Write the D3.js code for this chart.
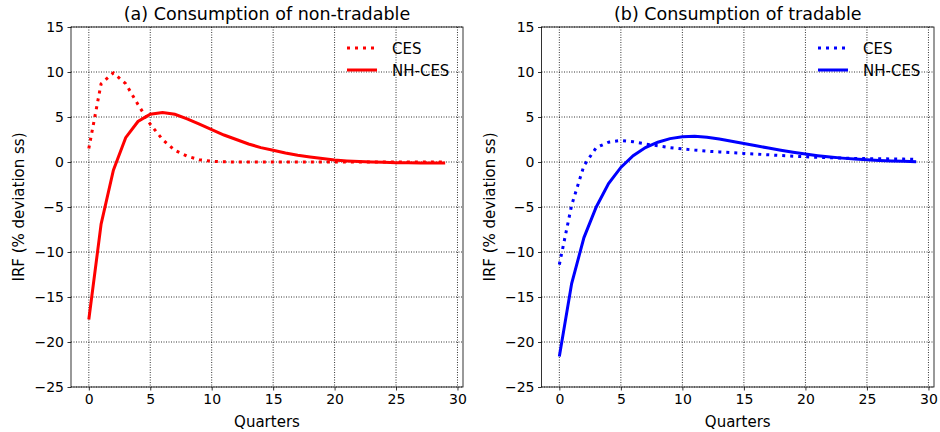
<!DOCTYPE html>
<html>
<head>
<meta charset="utf-8">
<script src="https://cdn.jsdelivr.net/npm/d3@7"></script>
<style>
  body { margin: 0; background: #fff; }
  text { font-family: "DejaVu Sans", sans-serif; fill: #000; }
</style>
</head>
<body>
<svg id="chart" width="940" height="432"></svg>
<script>
// quarters after the shock
const quarters = [0,1,2,3,4,5,6,7,8,9,10,11,12,13,14,15,16,17,18,19,20,21,22,23,24,25,26,27,28,29];

// (a) non-tradable consumption
const nonTradCES = [1.5,8.7,9.9,8.7,6.4,4.2,2.5,1.3,0.65,0.25,0.08,0.02,0,0,0,0,0,0,0,0,0,0,0,0,0,0,0,0,0,0];
const nonTradNH = [-17.5,-6.9,-0.9,2.7,4.5,5.3,5.5,5.3,4.8,4.2,3.6,3.0,2.5,2.0,1.6,1.3,1.0,0.75,0.55,0.38,0.22,0.12,0.05,0.0,-0.04,-0.07,-0.09,-0.1,-0.1,-0.1];

// (b) tradable consumption
const tradCES = [-11.4,-4.8,-0.4,1.6,2.2,2.4,2.25,2.0,1.8,1.6,1.45,1.32,1.2,1.12,1.04,0.95,0.88,0.8,0.72,0.65,0.58,0.52,0.47,0.43,0.4,0.38,0.36,0.34,0.32,0.3];
const tradNH = [-21.6,-13.5,-8.4,-5.0,-2.4,-0.6,0.7,1.6,2.2,2.6,2.8,2.85,2.75,2.55,2.3,2.05,1.8,1.55,1.3,1.08,0.88,0.7,0.55,0.43,0.33,0.25,0.18,0.12,0.07,0.03];

const xTicks = [0,5,10,15,20,25,30];
const yTicks = [-25,-20,-15,-10,-5,0,5,10,15];
const titles = ["(a) Consumption of non-tradable", "(b) Consumption of tradable"];
const seriesNames = ["CES", "NH-CES"];
const colors = ["#ff0000", "#0000ff"];

const svg = d3.select("#chart");
svg.append("rect").attr("width", 940).attr("height", 432).attr("fill", "#fff");

const panels = [
  { left: 71, right: 463, title: titles[0], color: colors[0], ces: nonTradCES, nh: nonTradNH },
  { left: 541.5, right: 934, title: titles[1], color: colors[1], ces: tradCES, nh: tradNH }
];
const plotTop = 27, plotBottom = 387;

panels.forEach((p, k) => {
  const x = d3.scaleLinear().domain([-1.45, 30.45]).range([p.left, p.right]);
  const y = d3.scaleLinear().domain([-25, 15]).range([plotBottom, plotTop]);
  const g = svg.append("g");

  // grid
  g.append("g").selectAll("line").data(xTicks).join("line")
    .attr("x1", d => x(d)).attr("x2", d => x(d))
    .attr("y1", plotTop).attr("y2", plotBottom)
    .attr("stroke", "#000").attr("stroke-width", 0.8).attr("stroke-dasharray", "1,1.5");
  g.append("g").selectAll("line").data(yTicks).join("line")
    .attr("x1", p.left).attr("x2", p.right)
    .attr("y1", d => y(d)).attr("y2", d => y(d))
    .attr("stroke", "#000").attr("stroke-width", 0.8).attr("stroke-dasharray", "1,1.5");

  // lines
  const line = vals => d3.line().x((d, i) => x(quarters[i])).y(d => y(d))(vals);
  const clipId = "clip" + k;
  svg.append("clipPath").attr("id", clipId).append("rect")
    .attr("x", p.left).attr("y", plotTop).attr("width", p.right - p.left).attr("height", plotBottom - plotTop);
  const lg = g.append("g").attr("clip-path", `url(#${clipId})`);
  lg.append("path").attr("d", line(p.ces)).attr("fill", "none")
    .attr("stroke", p.color).attr("stroke-width", 3).attr("stroke-dasharray", "3,5");
  lg.append("path").attr("d", line(p.nh)).attr("fill", "none")
    .attr("stroke", p.color).attr("stroke-width", 3);

  // axes
  const xAxis = g.append("g").attr("transform", `translate(0,${plotBottom})`)
    .call(d3.axisBottom(x).tickValues(xTicks).tickSize(3.5).tickPadding(3.5));
  const yAxis = g.append("g").attr("transform", `translate(${p.left},0)`)
    .call(d3.axisLeft(y).tickValues(yTicks).tickSize(3.5).tickPadding(3.5));
  [xAxis, yAxis].forEach(a => {
    a.select(".domain").remove();
    a.selectAll("line").attr("stroke", "#000").attr("stroke-width", 0.8);
    a.selectAll("text").attr("font-size", 14).attr("font-family", "DejaVu Sans").attr("fill", "#000");
  });

  // frame
  g.append("rect").attr("x", p.left).attr("y", plotTop)
    .attr("width", p.right - p.left).attr("height", plotBottom - plotTop)
    .attr("fill", "none").attr("stroke", "#000").attr("stroke-width", 0.8);

  // labels
  g.append("text").attr("x", (p.left + p.right) / 2).attr("y", 20)
    .attr("text-anchor", "middle").attr("font-size", 17.5).text(p.title);
  g.append("text").attr("x", (p.left + p.right) / 2).attr("y", 427)
    .attr("text-anchor", "middle").attr("font-size", 15).text("Quarters");
  g.append("text")
    .attr("transform", `translate(${p.left - 47},${(plotTop + plotBottom) / 2}) rotate(-90)`)
    .attr("text-anchor", "middle").attr("font-size", 15).text("IRF (% deviation ss)");

  // legend
  const leg = g.append("g");
  seriesNames.forEach((name, i) => {
    const ly = 48 + i * 22;
    leg.append("line").attr("x1", p.right - 116).attr("x2", p.right - 86)
      .attr("y1", ly).attr("y2", ly)
      .attr("stroke", p.color).attr("stroke-width", 3)
      .attr("stroke-dasharray", i === 0 ? "3,5" : null);
    leg.append("text").attr("x", p.right - 71).attr("y", ly + 5.5)
      .attr("font-size", 15).text(name);
  });
});
</script>
</body>
</html>
